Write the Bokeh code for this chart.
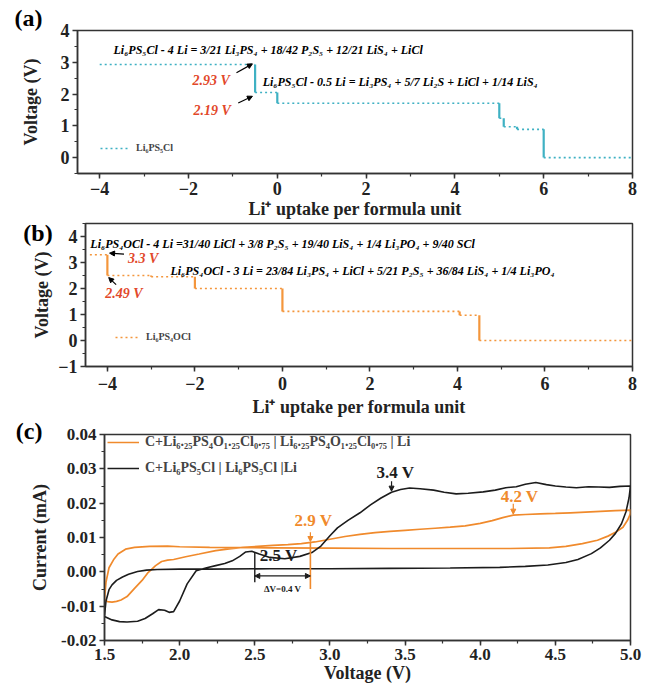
import numpy as np
from bokeh.plotting import figure
from bokeh.models import (Range1d, SingleIntervalTicker, Label, Arrow, NormalHead,
                          Legend, LegendItem, PrintfTickFormatter)
from bokeh.layouts import column
from bokeh.embed import file_html
from bokeh.resources import INLINE

# ---------------- data ----------------
# (a) Li6PS5Cl voltage profile: plateau boundaries (Li uptake) and plateau voltages
a_x_breaks = [-4.0, -0.5, 0.0, 5.0, 5.1, 5.4, 6.0, 8.0]
a_volt = [2.93, 2.05, 1.71, 1.24, 0.97, 0.89, 0.0]
# (b) Li6PS4OCl voltage profile
b_x_breaks = [-4.4, -4.0, -3.0, -2.0, 0.0, 4.05, 4.5, 8.0]
b_volt = [3.3, 2.5, 2.45, 2.0, 1.12, 0.97, 0.0]

# (c) CV curves, Li6PS5Cl (black): anodic sweep then return sweep
black_an_v = [1.50, 1.55, 1.60, 1.65, 1.72, 1.77, 1.82, 1.86, 1.90, 1.93, 1.96, 2.00, 2.05, 2.11,
              2.18, 2.24, 2.30, 2.35, 2.40, 2.44, 2.48, 2.53, 2.60, 2.70, 2.80, 2.88, 2.94, 3.00,
              3.05, 3.12, 3.20, 3.27, 3.34, 3.41, 3.47, 3.53, 3.60, 3.69, 3.76, 3.84, 3.92, 4.02,
              4.10, 4.17, 4.24, 4.30, 4.37, 4.44, 4.50, 4.57, 4.64, 4.72, 4.79, 4.86, 4.93, 5.00]
black_an_i = [-0.0130, -0.0140, -0.0145, -0.0146, -0.0144, -0.0136, -0.0122, -0.0110, -0.0112,
              -0.0118, -0.0116, -0.0085, -0.0035, 0.0003, 0.0012, 0.0018, 0.0024, 0.0032, 0.0045,
              0.0058, 0.0060, 0.0052, 0.0042, 0.0038, 0.0045, 0.0056, 0.0075, 0.0105, 0.0128,
              0.0150, 0.0172, 0.0195, 0.0215, 0.0232, 0.0240, 0.0244, 0.0242, 0.0238, 0.0232,
              0.0227, 0.0229, 0.0233, 0.0238, 0.0245, 0.0248, 0.0255, 0.0260, 0.0254, 0.0250,
              0.0247, 0.0245, 0.0248, 0.0247, 0.0246, 0.0249, 0.0250]
black_ret_v = [5.00, 4.99, 4.97, 4.94, 4.90, 4.86, 4.80, 4.74, 4.65, 4.57, 4.45, 4.30, 4.13, 3.80,
               3.40, 3.00, 2.60, 2.20, 2.00, 1.85, 1.78, 1.72, 1.66, 1.62, 1.58, 1.55, 1.53, 1.51, 1.50]
black_ret_i = [0.0250, 0.0215, 0.0175, 0.0140, 0.0112, 0.0092, 0.0070, 0.0053, 0.0036, 0.0027,
               0.0020, 0.0016, 0.0013, 0.0011, 0.0010, 0.0009, 0.0009, 0.0008, 0.0008, 0.0007,
               0.0005, 0.0001, -0.0007, -0.0015, -0.0025, -0.0038, -0.0052, -0.0085, -0.0128]

# (c) CV curves, Li6.25PS4O1.25Cl0.75 (orange)
orange_an_v = [1.50, 1.52, 1.55, 1.58, 1.61, 1.65, 1.70, 1.75, 1.79, 1.84, 1.88, 1.92, 1.96, 2.04,
               2.13, 2.24, 2.33, 2.42, 2.52, 2.62, 2.72, 2.81, 2.90, 3.00, 3.10, 3.20, 3.30, 3.40,
               3.50, 3.60, 3.70, 3.80, 3.90, 4.00, 4.08, 4.15, 4.22, 4.30, 4.40, 4.50, 4.60, 4.70,
               4.80, 4.90, 5.00]
orange_an_i = [-0.0080, -0.0087, -0.0088, -0.0086, -0.0082, -0.0072, -0.0048, -0.0025, -0.0002,
               0.0018, 0.0030, 0.0034, 0.0036, 0.0044, 0.0052, 0.0062, 0.0067, 0.0071, 0.0074,
               0.0077, 0.0079, 0.0082, 0.0087, 0.0095, 0.0103, 0.0109, 0.0114, 0.0118, 0.0121,
               0.0124, 0.0127, 0.0130, 0.0134, 0.0141, 0.0149, 0.0158, 0.0165, 0.0167, 0.0169,
               0.0170, 0.0172, 0.0174, 0.0176, 0.0178, 0.0180]
orange_ret_v = [5.00, 4.98, 4.95, 4.90, 4.85, 4.78, 4.68, 4.57, 4.46, 4.20, 3.80, 3.40, 3.00, 2.60,
                2.20, 2.00, 1.92, 1.80, 1.70, 1.64, 1.59, 1.56, 1.53, 1.51, 1.50]
orange_ret_i = [0.0170, 0.0150, 0.0130, 0.0115, 0.0104, 0.0092, 0.0082, 0.0074, 0.0070, 0.0068,
                0.0068, 0.0068, 0.0069, 0.0070, 0.0071, 0.0073, 0.0075, 0.0074, 0.0071, 0.0066,
                0.0052, 0.0035, 0.0012, -0.0030, -0.0080]

onset_black = 2.5
onset_orange = 2.87
peak_black = 3.41
peak_orange = 4.22

# ---------------- style ----------------
SERIF = "Liberation Serif"
TEAL = "#3fb1c3"
ORANGE = "#f4963c"
RED = "#e2482a"
C_ORANGE = "#f08a2c"
C_BLACK = "#1c1c1c"


def style(p, tick_size, title_size, ylab_standoff, x_lab_standoff, x_tick_standoff):
    p.outline_line_color = "#333333"
    p.outline_line_width = 1.5
    p.outline_line_alpha = 1.0
    p.xgrid.visible = False
    p.ygrid.visible = False
    p.background_fill_color = "white"
    p.border_fill_color = "white"
    for ax in p.axis:
        ax.axis_line_width = 1.5
        ax.axis_line_color = "#333333"
        ax.major_tick_line_width = 1.5
        ax.major_tick_line_color = "#333333"
        ax.minor_tick_line_width = 1.2
        ax.minor_tick_line_color = "#333333"
        ax.major_tick_in = 0
        ax.major_tick_out = 5
        ax.minor_tick_in = 0
        ax.minor_tick_out = 3
        ax.major_label_text_font = SERIF
        ax.major_label_text_font_style = "bold"
        ax.major_label_text_font_size = tick_size
        ax.major_label_text_color = "#222222"
        ax.axis_label_text_font = SERIF
        ax.axis_label_text_font_style = "bold"
        ax.axis_label_text_font_size = title_size
        ax.axis_label_text_color = "#222222"
        ax.major_label_standoff = 3
    p.xaxis.major_label_standoff = x_tick_standoff
    p.xaxis.axis_label_standoff = x_lab_standoff
    p.yaxis.axis_label_standoff = ylab_standoff
    try:
        p.frame_align = False
    except Exception:
        pass


def step_profile(p, breaks, volt, color):
    h = p.segment(x0=breaks[:-1], x1=breaks[1:], y0=volt, y1=volt,
                  line_color=color, line_width=1.6, line_dash="2 3")
    p.segment(x0=breaks[1:-1], x1=breaks[1:-1], y0=volt[:-1], y1=volt[1:],
              line_color=color, line_width=2.2)
    return h


def make_label(x, y, text, size, color="black", style_="bold italic", align="left"):
    return Label(x=x, y=y, text=text, text_font=SERIF, text_font_style=style_,
                 text_font_size=size, text_color=color, text_baseline="middle",
                 text_align=align)


def add_label(p, *args, **kw):
    p.add_layout(make_label(*args, **kw))


def add_arrow(p, x0, y0, x1, y1, color="black", both=False, size=6):
    head = NormalHead(size=size, fill_color=color, line_color=color)
    kw = dict(end=head, x_start=x0, y_start=y0, x_end=x1, y_end=y1,
              line_color=color, line_width=1.2)
    if both:
        kw["start"] = NormalHead(size=size, fill_color=color, line_color=color)
    p.add_layout(Arrow(**kw))


def small_legend(p, renderer, label, loc, glyph_w, font_size, lh):
    leg = Legend(items=[LegendItem(label=label, renderers=[renderer])], location=loc,
                 border_line_alpha=0, background_fill_alpha=0, padding=0, margin=0,
                 spacing=0, glyph_width=glyph_w, glyph_height=lh, label_height=lh,
                 label_standoff=6, label_text_font=SERIF, label_text_font_style="bold",
                 label_text_font_size=font_size)
    p.add_layout(leg)


# ---------------- panel (a) ----------------
p1 = figure(width=648, height=221, x_range=Range1d(-4.5, 8), y_range=Range1d(-0.5, 4),
            toolbar_location=None, output_backend="svg",
            min_border_left=77, min_border_right=16, min_border_top=30, min_border_bottom=48)
p1.xaxis.ticker = SingleIntervalTicker(interval=2, num_minor_ticks=2)
p1.yaxis.ticker = SingleIntervalTicker(interval=1, num_minor_ticks=2)
p1.xaxis.axis_label = "Li\u207a uptake per formula unit"
p1.yaxis.axis_label = "Voltage (V)"
style(p1, "18px", "18px", 17, 1, 3)
ha = step_profile(p1, a_x_breaks, a_volt, TEAL)
small_legend(p1, ha, "Li\u2086PS\u2085Cl", (23, 20), 30, "10px", 10)

# panel letters live in side panels so that they are not clipped to the frame
p1.add_layout(make_label(-5.92, 4.40, "(a)", "24px", style_="bold"), "above")
add_label(p1, -3.69, 3.39,
          "Li\u2086PS\u2085Cl - 4 Li  = 3/21 Li\u2083PS\u2084 + 18/42 P\u2082S\u2085 + 12/21 LiS\u2084 + LiCl",
          "12px")
add_label(p1, -0.33, 2.37,
          "Li\u2086PS\u2085Cl - 0.5 Li  = Li\u2083PS\u2084 + 5/7 Li\u2082S + LiCl + 1/14 LiS\u2084",
          "12px")
add_label(p1, -1.91, 2.44, "2.93 V", "14px", RED)
add_label(p1, -1.89, 1.49, "2.19 V", "14px", RED)
xa = a_x_breaks[1]
add_arrow(p1, xa - 0.42, a_volt[0] - 0.26, xa - 0.06, a_volt[0] + 0.02, size=5)
add_arrow(p1, xa - 0.38, a_volt[1] - 0.33, xa - 0.06, a_volt[1] - 0.12, size=5)

# ---------------- panel (b) ----------------
p2 = figure(width=648, height=198, x_range=Range1d(-4.5, 8), y_range=Range1d(-1, 4.5),
            toolbar_location=None, output_backend="svg",
            min_border_left=77, min_border_right=16, min_border_top=2, min_border_bottom=53)
p2.xaxis.ticker = SingleIntervalTicker(interval=2, num_minor_ticks=2)
p2.yaxis.ticker = SingleIntervalTicker(interval=1, num_minor_ticks=2)
p2.xaxis.axis_label = "Li\u207a uptake per formula unit"
p2.yaxis.axis_label = "Voltage (V)"
style(p2, "18px", "18px", 3, 4, 5)
hb = step_profile(p2, b_x_breaks, b_volt, ORANGE)
small_legend(p2, hb, "Li\u2086PS\u2084OCl", (30, 24), 25, "10px", 10)

p2.add_layout(make_label(-5.92, 4.12, "(b)", "24px", style_="bold"), "left")
add_label(p2, -4.39, 3.73,
          "Li\u2086PS\u2084OCl - 4 Li =31/40 LiCl + 3/8 P\u2082S\u2085 + 19/40 LiS\u2084 + 1/4 Li\u2083PO\u2084 + 9/40 SCl",
          "12px")
add_label(p2, -2.56, 2.66,
          "Li\u2086PS\u2084OCl - 3 Li  = 23/84 Li\u2083PS\u2084 + LiCl + 5/21 P\u2082S\u2085 + 36/84 LiS\u2084 + 1/4 Li\u2083PO\u2084",
          "12px")
add_label(p2, -3.53, 3.15, "3.3 V", "14px", RED)
add_label(p2, -4.05, 1.81, "2.49 V", "14px", RED)
xb = b_x_breaks[1]
add_arrow(p2, xb + 0.38, b_volt[0] + 0.02, xb + 0.05, b_volt[0] + 0.06, size=5)
add_arrow(p2, xb + 0.2, b_volt[1] - 0.35, xb + 0.03, b_volt[1] - 0.08, size=5)

# ---------------- panel (c) ----------------
p3 = figure(width=648, height=270, x_range=Range1d(1.5, 5.0), y_range=Range1d(-0.02, 0.04),
            toolbar_location=None, output_backend="svg",
            min_border_left=102, min_border_right=18, min_border_top=15, min_border_bottom=49)
p3.xaxis.ticker = SingleIntervalTicker(interval=0.5, num_minor_ticks=2)
p3.yaxis.ticker = SingleIntervalTicker(interval=0.01, num_minor_ticks=2)
p3.xaxis.formatter = PrintfTickFormatter(format="%.1f")
p3.yaxis.formatter = PrintfTickFormatter(format="%.2f")
p3.xaxis.axis_label = "Voltage (V)"
p3.yaxis.axis_label = "Current (mA)"
style(p3, "17px", "18px", 8, 0, 3)

orange_v = orange_an_v + orange_ret_v
orange_i = orange_an_i + orange_ret_i
black_v = black_an_v + black_ret_v
black_i = black_an_i + black_ret_i
ro = p3.line(orange_v, orange_i, line_color=C_ORANGE, line_width=1.7)
rb = p3.line(black_v, black_i, line_color=C_BLACK, line_width=1.6)

leg3 = Legend(items=[LegendItem(label="C+Li\u2086.\u2082\u2085PS\u2084O\u2081.\u2082\u2085Cl\u2080.\u2087\u2085 | Li\u2086.\u2082\u2085PS\u2084O\u2081.\u2082\u2085Cl\u2080.\u2087\u2085 | Li",
                                renderers=[ro]),
                     LegendItem(label="C+Li\u2086PS\u2085Cl | Li\u2086PS\u2085Cl |Li", renderers=[rb])],
              location=(3, 164), border_line_alpha=0, background_fill_alpha=0, padding=0,
              margin=0, spacing=10, glyph_width=32, glyph_height=16, label_height=16,
              label_standoff=6, label_text_font=SERIF, label_text_font_style="bold",
              label_text_font_size="14px")
p3.add_layout(leg3)

# annotations in (c)
yo = float(np.interp(onset_orange, orange_an_v, orange_an_i))
yb_on = float(np.interp(onset_black, black_an_v, black_an_i))
yb_pk = float(np.interp(peak_black, black_an_v, black_an_i))
yo_pk = float(np.interp(peak_orange, orange_an_v, orange_an_i))

p3.segment(x0=[onset_orange], x1=[onset_orange], y0=[yo], y1=[-0.005],
           line_color=C_ORANGE, line_width=1.6)
p3.segment(x0=[onset_black], x1=[onset_black], y0=[yb_on], y1=[-0.0030],
           line_color=C_BLACK, line_width=1.4)
add_arrow(p3, onset_black, -0.0012, onset_orange, -0.0012, C_BLACK, both=True, size=5)
add_arrow(p3, onset_orange, yo + 0.0030, onset_orange, yo + 0.0003, C_ORANGE, size=5)
add_arrow(p3, peak_black, yb_pk + 0.0032, peak_black, yb_pk + 0.0003, C_BLACK, size=5)
add_arrow(p3, peak_orange, yo_pk + 0.0033, peak_orange, yo_pk + 0.0003, C_ORANGE, size=5)

p3.add_layout(make_label(0.91, 0.0411, "(c)", "24px", style_="bold"), "left")
add_label(p3, 2.765, 0.0149, "2.9 V", "17px", C_ORANGE, "bold")
add_label(p3, 2.533, 0.0047, "2.5 V", "17px", C_BLACK, "bold")
add_label(p3, 2.685, -0.0050, "\u0394V=0.4 V", "9px", C_BLACK, "bold", align="center")
add_label(p3, 3.31, 0.0289, "3.4 V", "17px", C_BLACK, "bold")
add_label(p3, 4.136, 0.0218, "4.2 V", "17px", C_ORANGE, "bold")

layout = column(p1, p2, p3)
open("out.html", "w").write(file_html(layout, INLINE))
